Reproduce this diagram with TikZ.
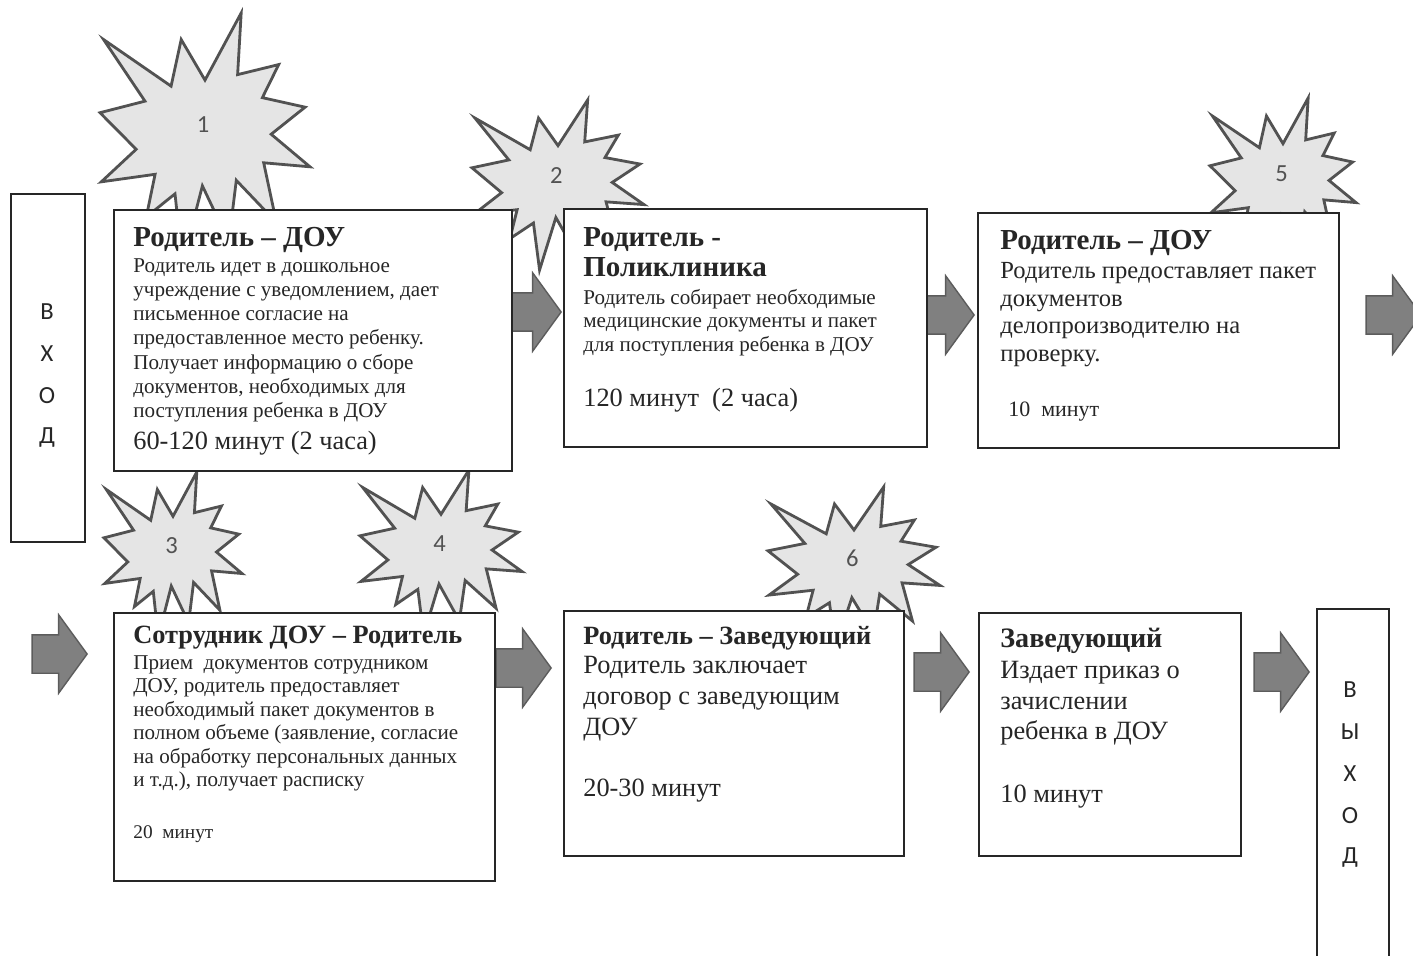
\documentclass[tikz,border=0pt]{standalone}
\usepackage{fontspec}
\setmainfont{Liberation Serif}
\newfontfamily\calibfont{Carlito}
\usetikzlibrary{calc}
\usetikzlibrary{positioning}
\usetikzlibrary{shapes.arrows}

\definecolor{ink}{gray}{0.15}
\definecolor{burstfill}{gray}{0.9}
\definecolor{burstline}{gray}{0.32}
\definecolor{arrowfill}{gray}{0.5}
\definecolor{arrowline}{gray}{0.36}

\tikzset{
  box/.style={draw=ink,line width=1pt,fill=white,anchor=north west,inner sep=0pt},
  burst/.style={draw=burstline,line width=1.6pt,fill=burstfill,line join=miter},
  burstnum/.style={font=\calibfont\fontsize{14}{16}\selectfont,text=burstline},
  letter/.style={font=\calibfont\fontsize{14}{16}\selectfont,text=ink},
  flow/.style={single arrow,draw=arrowline,fill=arrowfill,line width=0.8pt,
    minimum height=1.1cm,minimum width=1.54cm,single arrow head extend=0.4cm,
    single arrow tip angle=108,inner xsep=0pt,inner ysep=0.37cm,anchor=tip},
  head/.style={anchor=base west,inner sep=0pt,text=ink,align=left},
  body/.style={anchor=north west,inner sep=0pt,text=ink,align=left},
}

% explosion shape: name, corner, width, height, number
\newcommand{\burst}[5]{%
  \begin{scope}[shift={#2},xscale=#3/216,yscale=#4/216]
    \draw[burst] (108,58) -- (145.22,0) -- (141.55,53.25) -- (183.8,44.57)
      -- (167.02,73.15) -- (210.97,81.37) -- (176.07,104.75) -- (216,132.9)
      -- (168.37,129.42) -- (181.45,180.95) -- (140.2,144.57) -- (132.47,197.37)
      -- (105.32,149.35) -- (84.85,216) -- (77.15,156.27) -- (47.62,176.17)
      -- (56.67,139.37) -- (1.35,145.87) -- (37.22,117.75) -- (0,86.15)
      -- (46.27,76.17) -- (3.7,22.95) -- (73.12,63.2) -- (83.52,22.95) -- cycle;
    \node[burstnum] (#1) at (106,96) {#5};
  \end{scope}}

\begin{document}
\begin{tikzpicture}[x=0.02cm,y=-0.02cm]
  \useasboundingbox (0,0) rectangle (1413,956);

  \burst{s1}{(100,13)}{210}{250}{1}
  \burst{s2}{(472,100)}{172}{170}{2}
  \burst{s3}{(104,472)}{138}{165}{3}
  \burst{s4}{(360,470)}{162}{165}{4}
  \burst{s5}{(1210,98)}{146}{170}{5}
  \burst{s6}{(768,487)}{172}{160}{6}

  \node[flow] (a12) at (562,312) {};
  \node[flow] (a23) at (975,315) {};
  \node[flow] (a3x) at (1422,315) {};
  \node[flow] (ain) at (88,654) {};
  \node[flow] (a45) at (552,668) {};
  \node[flow] (a56) at (970,672) {};
  \node[flow] (a6o) at (1310,672) {};

  % entry and exit
  \node[box,minimum width=1.48cm,minimum height=6.96cm] (in) at (10,193) {};
  \foreach \ch [count=\i] in {В,Х,О,Д}
    \node[letter] (in-\i) at (47,{270+42*\i}) {\ch};
  \node[box,minimum width=1.44cm,minimum height=7.04cm] (out) at (1316,608) {};
  \foreach \ch [count=\i] in {В,Ы,Х,О,Д}
    \node[letter] (out-\i) at (1350,{648+42*\i}) {\ch};

  % upper row
  \node[box,minimum width=7.96cm,minimum height=5.22cm] (b1) at (113,209) {};
  \node[head,font=\bfseries\fontsize{16.5}{19}\selectfont] (t1) at (133,247) {Родитель – ДОУ};
  \node[body,font=\fontsize{12}{13.8}\selectfont] (d1) at (133,258)
    {Родитель идет в дошкольное\\учреждение с уведомлением, дает\\письменное согласие на\\предоставленное место ребенку.\\Получает информацию о сборе\\документов, необходимых для\\поступления ребенка в ДОУ};
  \node[head,font=\fontsize{15}{17}\selectfont] (m1) at (133,449) {60-120 минут (2 часа)};

  \node[box,minimum width=7.26cm,minimum height=4.76cm] (b2) at (563,208) {};
  \node[body,font=\bfseries\fontsize{16.5}{17}\selectfont] (t2) at (583,227) {Родитель -\\Поликлиника};
  \node[body,font=\fontsize{12}{13.4}\selectfont] (d2) at (583,289)
    {Родитель собирает необходимые\\медицинские документы и пакет\\для поступления ребенка в ДОУ};
  \node[head,font=\fontsize{15}{17}\selectfont] (m2) at (583,406) {120 минут\ \ (2 часа)};

  \node[box,minimum width=7.22cm,minimum height=4.70cm] (b3) at (977,212) {};
  \node[head,font=\bfseries\fontsize{16.5}{19}\selectfont] (t3) at (1000,250) {Родитель – ДОУ};
  \node[body,font=\fontsize{14}{15.8}\selectfont] (d3) at (1000,262)
    {Родитель предоставляет пакет\\документов\\делопроизводителю на\\проверку.};
  \node[head,font=\fontsize{12.5}{14}\selectfont] (m3) at (1008,416) {10\ \ минут};

  % lower row
  \node[box,minimum width=7.62cm,minimum height=5.36cm] (b4) at (113,612) {};
  \node[head,font=\bfseries\fontsize{15}{17}\selectfont] (t4) at (133,643) {Сотрудник ДОУ – Родитель};
  \node[body,font=\fontsize{12}{13.4}\selectfont] (d4) at (133,655)
    {Прием\ \ документов сотрудником\\ДОУ, родитель предоставляет\\необходимый пакет документов в\\полном объеме (заявление, согласие\\на обработку персональных данных\\и т.д.), получает расписку};
  \node[head,font=\fontsize{11}{13}\selectfont] (m4) at (133,838) {20\ \ минут};

  \node[box,minimum width=6.80cm,minimum height=4.90cm] (b5) at (563,610) {};
  \node[head,font=\bfseries\fontsize{15}{17}\selectfont] (t5) at (583,644) {Родитель – Заведующий};
  \node[body,font=\fontsize{15}{17.6}\selectfont] (d5) at (583,656)
    {Родитель заключает\\договор с заведующим\\ДОУ};
  \node[head,font=\fontsize{15}{17}\selectfont] (m5) at (583,796) {20-30 минут};

  \node[box,minimum width=5.24cm,minimum height=4.86cm] (b6) at (978,612) {};
  \node[head,font=\bfseries\fontsize{16}{19}\selectfont] (t6) at (1000,647) {Заведующий};
  \node[body,font=\fontsize{15}{17.3}\selectfont] (d6) at (1000,661)
    {Издает приказ о\\зачислении\\ребенка в ДОУ};
  \node[head,font=\fontsize{15}{17}\selectfont] (m6) at (1000,802) {10 минут};
\end{tikzpicture}
\end{document}
